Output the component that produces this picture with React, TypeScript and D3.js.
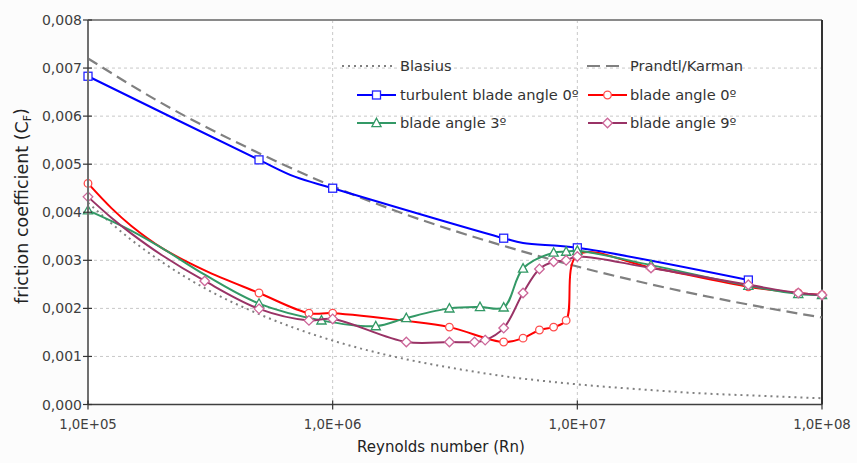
import React, { useEffect } from "react";
import * as d3 from "d3";

// ---- data ----
const xTicks = [1e5, 1e6, 1e7, 1e8];
const xTickLabels = ["1,0E+05", "1,0E+06", "1,0E+07", "1,0E+08"];
const yTicks = [0, 0.001, 0.002, 0.003, 0.004, 0.005, 0.006, 0.007, 0.008];
const yTickLabels = ["0,000", "0,001", "0,002", "0,003", "0,004", "0,005", "0,006", "0,007", "0,008"];

const blasiusRe = [1e5, 1.5e5, 2e5, 3e5, 5e5, 7e5, 1e6, 2e6, 3e6, 5e6, 1e7, 2e7, 3e7, 5e7, 1e8];
const blasiusCf = [0.0042, 0.00343, 0.00297, 0.00242, 0.00188, 0.00159, 0.00133, 0.00094, 0.00077, 0.00059, 0.00042, 0.0003, 0.00024, 0.00019, 0.00013];

const prandtlRe = [1e5, 2e5, 5e5, 1e6, 2e6, 5e6, 1e7, 2e7, 5e7, 1e8];
const prandtlCf = [0.0072, 0.00627, 0.00523, 0.00454, 0.00395, 0.0033, 0.00287, 0.0025, 0.00208, 0.00181];

const turbRe = [1e5, 5e5, 7e5, 1e6, 5e6, 6e6, 1e7, 5e7];
const turbCf = [0.00683, 0.00509, 0.00474, 0.0045, 0.00346, 0.00336, 0.00326, 0.00259];
const turbMeasured = [1, 1, 0, 1, 1, 0, 1, 1];

const a0Re = [1e5, 1.25e5, 1.5e5, 2e5, 3e5, 5e5, 8e5, 1e6, 2e6, 3e6, 5e6, 6e6, 7e6, 8e6, 9e6, 1e7, 2e7, 5e7, 8e7, 1e8];
const a0Cf = [0.0046, 0.00408, 0.00372, 0.00326, 0.00279, 0.00232, 0.0019, 0.0019, 0.00174, 0.00161, 0.0013, 0.00138, 0.00155, 0.00161, 0.00175, 0.00311, 0.00285, 0.00245, 0.00232, 0.00228];
const a0Measured = [1, 0, 0, 0, 0, 1, 1, 1, 0, 1, 1, 1, 1, 1, 1, 1, 1, 1, 1, 1];

const a3Re = [1e5, 1.5e5, 2e5, 3e5, 5e5, 9e5, 1.5e6, 2e6, 3e6, 4e6, 5e6, 6e6, 8e6, 9e6, 1e7, 2e7, 5e7, 8e7, 1e8];
const a3Cf = [0.00404, 0.00362, 0.00326, 0.0027, 0.0021, 0.00175, 0.00163, 0.0018, 0.002, 0.00203, 0.00202, 0.00283, 0.00316, 0.00318, 0.0032, 0.0029, 0.00247, 0.0023, 0.00228];
const a3Measured = [1, 0, 0, 0, 1, 1, 1, 1, 1, 1, 1, 1, 1, 1, 1, 1, 1, 1, 1];

const a9Re = [1e5, 1.25e5, 1.5e5, 2e5, 3e5, 5e5, 8e5, 1e6, 2e6, 3e6, 3.8e6, 4.2e6, 5e6, 6e6, 7e6, 8e6, 9e6, 1e7, 2e7, 5e7, 8e7, 1e8];
const a9Cf = [0.00432, 0.00388, 0.00356, 0.00311, 0.00257, 0.00199, 0.00175, 0.00178, 0.0013, 0.0013, 0.0013, 0.00134, 0.00159, 0.00232, 0.00282, 0.00297, 0.003, 0.00308, 0.00284, 0.00249, 0.00232, 0.00228];
const a9Measured = [1, 0, 0, 0, 1, 1, 1, 1, 1, 1, 1, 1, 1, 1, 1, 1, 1, 1, 1, 1, 1, 1];

const legendNames = ["Blasius", "Prandtl/Karman", "turbulent blade angle 0º", "blade angle 0º", "blade angle 3º", "blade angle 9º"];

// ---- layout ----
const W = 857, H = 463;
const L = 88, R = 822, T = 20, B = 404.5;
const FONT = "'DejaVu Sans', Verdana, sans-serif";

const x = d3.scaleLog().domain([1e5, 1e8]).range([L, R]);
const y = d3.scaleLinear().domain([0, 0.008]).range([B, T]);

type Pt = [number, number];
const zip = (a: number[], b: number[]): Pt[] => a.map((v, i) => [v, b[i]]);

const smooth = d3.line<Pt>().x(d => x(d[0])).y(d => y(d[1])).curve(d3.curveCatmullRom.alpha(0.5));
const straight = d3.line<Pt>().x(d => x(d[0])).y(d => y(d[1])).curve(d3.curveMonotoneX);

function Marker({ kind, cx, cy, stroke }: { kind: string; cx: number; cy: number; stroke: string }) {
  if (kind === "square") return <rect x={cx - 4} y={cy - 4} width={8} height={8} fill="#fff" stroke={stroke} strokeWidth={1.3} />;
  if (kind === "circle") return <circle cx={cx} cy={cy} r={3.8} fill="#fff" stroke={stroke} strokeWidth={1.3} />;
  if (kind === "triangle") return <path d={`M${cx},${cy - 4.8}L${cx + 4.6},${cy + 3.6}L${cx - 4.6},${cy + 3.6}Z`} fill="#fff" stroke={stroke} strokeWidth={1.3} />;
  return <path d={`M${cx},${cy - 4.8}L${cx + 4.8},${cy}L${cx},${cy + 4.8}L${cx - 4.8},${cy}Z`} fill="#fff" stroke={stroke} strokeWidth={1.3} />;
}

const series = [
  { re: turbRe, cf: turbCf, m: turbMeasured, color: "#0000ff", mcolor: "#2222ff", kind: "square" },
  { re: a0Re, cf: a0Cf, m: a0Measured, color: "#ff0000", mcolor: "#ff4d4d", kind: "circle" },
  { re: a3Re, cf: a3Cf, m: a3Measured, color: "#339966", mcolor: "#339966", kind: "triangle" },
  { re: a9Re, cf: a9Cf, m: a9Measured, color: "#993366", mcolor: "#cc6699", kind: "diamond" },
];

export default function App() {
  useEffect(() => {
    document.body.style.margin = "0";
    document.body.style.background = "#fcfcfc";
  }, []);

  const legendRows = [
    { lx: 342, tx: 400, yy: 66, name: legendNames[0], type: "blasius" },
    { lx: 587, tx: 630, yy: 66, name: legendNames[1], type: "prandtl" },
    { lx: 357, tx: 400, yy: 95, name: legendNames[2], type: 0 },
    { lx: 588, tx: 630, yy: 95, name: legendNames[3], type: 1 },
    { lx: 357, tx: 400, yy: 123, name: legendNames[4], type: 2 },
    { lx: 588, tx: 630, yy: 123, name: legendNames[5], type: 3 },
  ];

  return (
    <svg width={W} height={H} style={{ position: "absolute", left: 0, top: 0, display: "block" }} fontFamily={FONT}>
      <rect x={0} y={0} width={W} height={H} fill="#fcfcfc" />
      <rect x={L} y={T} width={R - L} height={B - T} fill="#ffffff" />
      <defs>
        <clipPath id="plotclip">
          <rect x={L - 6} y={T - 6} width={R - L + 12} height={B - T + 12} />
        </clipPath>
      </defs>
      {/* gridlines */}
      {yTicks.slice(1, -1).map(t => (
        <line key={"gy" + t} x1={L} x2={R} y1={y(t)} y2={y(t)} stroke="#c8c8c8" strokeDasharray="3,3" strokeWidth={1} />
      ))}
      {xTicks.slice(1, -1).map(t => (
        <line key={"gx" + t} x1={x(t)} x2={x(t)} y1={T} y2={B} stroke="#c8c8c8" strokeDasharray="3,3" strokeWidth={1} />
      ))}
      {/* frame */}
      <line x1={L} x2={R} y1={T} y2={T} stroke="#8a8a8a" strokeWidth={2} />
      <line x1={R} x2={R} y1={T} y2={B} stroke="#333" strokeWidth={2} />

      <g clipPath="url(#plotclip)">
        <path d={straight(zip(blasiusRe, blasiusCf)) || ""} fill="none" stroke="#808080" strokeWidth={2} strokeDasharray="2,4" />
        <path d={straight(zip(prandtlRe, prandtlCf)) || ""} fill="none" stroke="#808080" strokeWidth={2.2} strokeDasharray="11,6" />
        {series.map((s, i) => (
          <g key={"s" + i}>
            <path d={smooth(zip(s.re, s.cf)) || ""} fill="none" stroke={s.color} strokeWidth={2} />
            {s.re.map((r, j) => (s.m[j] ? <Marker key={j} kind={s.kind} cx={x(r)} cy={y(s.cf[j])} stroke={s.mcolor} /> : null))}
          </g>
        ))}
      </g>

      {/* axes */}
      <line x1={L} x2={L} y1={T} y2={B} stroke="#707070" strokeWidth={2} />
      <line x1={L} x2={R} y1={B} y2={B} stroke="#404040" strokeWidth={1.5} />
      {yTicks.map((t, i) => (
        <g key={"yt" + t}>
          <line x1={L - 5} x2={L + 4} y1={y(t)} y2={y(t)} stroke="#333" strokeWidth={1.2} />
          <text x={L - 6} y={y(t)} dy="0.36em" textAnchor="end" fontSize={14} fill="#404040">{yTickLabels[i]}</text>
        </g>
      ))}
      {xTicks.map((t, i) => (
        <g key={"xt" + t}>
          <line x1={x(t)} x2={x(t)} y1={B - 4} y2={B + 5} stroke="#333" strokeWidth={1.2} />
          <text x={x(t)} y={424} dy="0.36em" textAnchor="middle" fontSize={13.3} fill="#404040">{xTickLabels[i]}</text>
        </g>
      ))}
      <text x={441} y={447} dy="0.36em" textAnchor="middle" fontSize={15} fill="#222">Reynolds number (Rn)</text>
      <text transform={`translate(22,206) rotate(-90)`} dy="0.36em" textAnchor="middle" fontSize={17.5} fill="#222">
        friction coefficient (C<tspan fontSize={11} dy="0.2em">F</tspan><tspan dy="-0.2em">)</tspan>
      </text>

      {/* legend */}
      {legendRows.map((r, i) => {
        let sample: React.ReactNode = null;
        if (r.type === "blasius") {
          sample = <line x1={r.lx} x2={r.lx + 52} y1={r.yy} y2={r.yy} stroke="#808080" strokeWidth={2} strokeDasharray="2,4" />;
        } else if (r.type === "prandtl") {
          sample = <line x1={r.lx} x2={r.lx + 32} y1={r.yy} y2={r.yy} stroke="#808080" strokeWidth={2.2} strokeDasharray="13,6" />;
        } else {
          const s = series[r.type as number];
          sample = (
            <g>
              <line x1={r.lx} x2={r.lx + 39} y1={r.yy} y2={r.yy} stroke={s.color} strokeWidth={2} />
              <Marker kind={s.kind} cx={r.lx + 19.5} cy={r.yy} stroke={s.mcolor} />
            </g>
          );
        }
        return (
          <g key={"lg" + i}>
            {sample}
            <text x={r.tx} y={r.yy} dy="0.36em" fontSize={14.6} fill="#333">{r.name}</text>
          </g>
        );
      })}
    </svg>
  );
}
